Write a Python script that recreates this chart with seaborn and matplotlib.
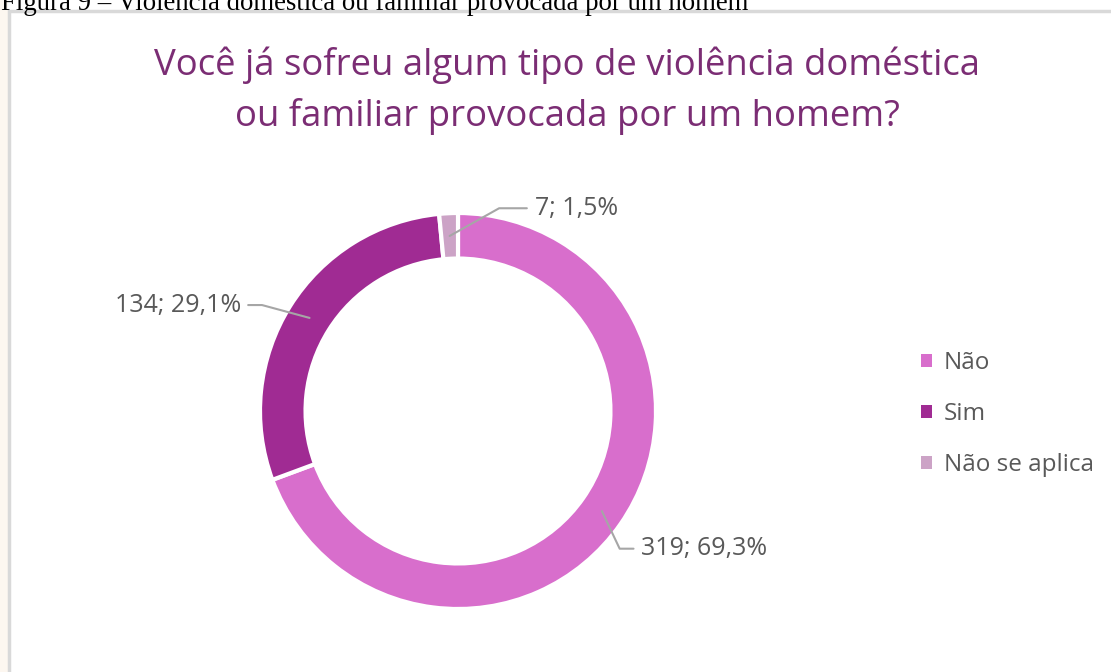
import numpy as np
import seaborn as sns
import matplotlib.pyplot as plt
from matplotlib.patches import Rectangle, Patch

categorias = ['Não', 'Sim', 'Não se aplica']
respostas = [319, 134, 7]
cores = sns.color_palette(['#D86ECC', '#A02B93', '#CCA3C6'])

titulo = 'Você já sofreu algum tipo de violência doméstica\nou familiar provocada por um homem?'
legenda_fig = 'Figura 9 – Violência doméstica ou familiar provocada por um homem'

sns.set_theme(style='white')
plt.rcParams['font.family'] = ['Open Sans', 'DejaVu Sans']

W, H = 1111, 672
fig = plt.figure(figsize=(W / 100, H / 100), dpi=100)
fig.patch.set_facecolor('white')

# fundo / moldura do gráfico
fig.patches.append(Rectangle((0, 0), 8 / W, 1, transform=fig.transFigure,
                             facecolor='#FDF7F0', edgecolor='none', zorder=-2))
fig.patches.append(Rectangle((9 / W, -0.1), 1.2, 1 - 11 / H + 0.1, transform=fig.transFigure,
                             facecolor='white', edgecolor='#D9D9D9', linewidth=2.5, zorder=-1))

fig.text(1 / W, 1 + 10 / H, legenda_fig, family='Liberation Serif', fontsize=19.3,
         color='black', ha='left', va='top')

fig.text(567 / W, 1 - 91 / H, titulo, ha='center', va='center', fontsize=26.3,
         color='#7B2D74', linespacing=1.5)

# donut
cx, cy, r = 458, 411, 198
ax = fig.add_axes([(cx - r) / W, (H - cy - r) / H, 2 * r / W, 2 * r / H])
ax.set_zorder(2)
wedges, _ = ax.pie(respostas, colors=cores, startangle=90, counterclock=False,
                   radius=1, wedgeprops=dict(width=0.23, edgecolor='white', linewidth=3))
ax.set_xlim(-1, 1)
ax.set_ylim(-1, 1)
ax.set_aspect('equal')
ax.axis('off')

total = sum(respostas)
rotulos = [f'{n}; {n / total * 100:.1f}%'.replace('.', ',') for n in respostas]
# deslocamentos (em unidades do raio) das linhas de chamada: cotovelo, fim
chamadas = [((0.09, -0.19), (0.16, -0.19), 'left'),
            ((-0.24, 0.065), (-0.31, 0.065), 'right'),
            ((0.25, 0.14), (0.39, 0.14), 'left')]
cinza_linha = '#A6A6A6'
for w, rot, (cot, fim, ha) in zip(wedges, rotulos, chamadas):
    ang = np.deg2rad((w.theta1 + w.theta2) / 2)
    x0, y0 = 0.885 * np.cos(ang), 0.885 * np.sin(ang)
    x1, y1 = x0 + cot[0], y0 + cot[1]
    x2, y2 = x0 + fim[0], y0 + fim[1]
    ax.plot([x0, x1, x2], [y0, y1, y2], color=cinza_linha, lw=1.5, clip_on=False)
    dx = 0.04 if ha == 'left' else -0.035
    ax.text(x2 + dx, y2, rot, ha=ha, va='center', fontsize=18, color='#595959')

handles = [Patch(facecolor=c, edgecolor='none') for c in cores]
leg = fig.legend(handles, categorias, loc='center left', bbox_to_anchor=(899 / W, 1 - 414 / H),
                 frameon=False, fontsize=17.5, labelcolor='#595959', labelspacing=1.12,
                 handlelength=0.45, handleheight=0.45, handletextpad=0.5)
leg.set_zorder(3)

fig.savefig('out.png', dpi=100)
